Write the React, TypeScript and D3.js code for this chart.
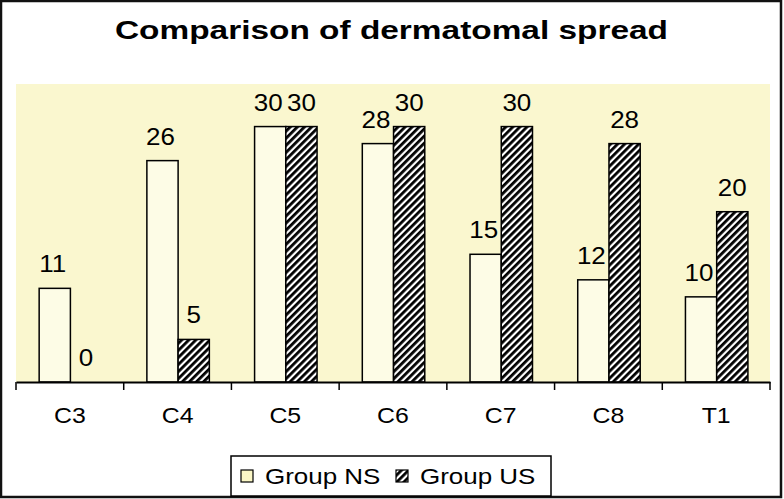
import React, { useEffect, useRef } from 'react';
import * as d3 from 'd3';

const categories = ['C3', 'C4', 'C5', 'C6', 'C7', 'C8', 'T1'];
const groupNS = [11, 26, 30, 28, 15, 12, 10];
const groupUS = [0, 5, 30, 30, 30, 28, 20];
const seriesNames = ['Group NS', 'Group US'];

const W = 784;
const H = 499;
const SX = 1.13; // the original text is drawn wider than Arial

export default function App() {
  const ref = useRef<SVGSVGElement>(null);

  useEffect(() => {
    const svg = d3.select(ref.current);
    svg.selectAll('*').remove();

    const font = '"Liberation Sans", Arial, sans-serif';
    const left = 16, right = 770, top = 84, bottom = 382;

    const x = d3.scaleBand().domain(categories).range([left, right]).padding(0);
    const y = d3.scaleLinear().domain([0, 35]).range([bottom, top]);
    const bw = x.bandwidth();
    const x1 = d3.scaleBand().domain(['NS', 'US']).range([bw * 0.215, bw * 0.795]);

    const defs = svg.append('defs');
    const pat = defs.append('pattern')
      .attr('id', 'hatch')
      .attr('patternUnits', 'userSpaceOnUse')
      .attr('width', 5)
      .attr('height', 5)
      .attr('patternTransform', 'rotate(45)');
    pat.append('rect').attr('width', 5).attr('height', 5).attr('fill', '#fff');
    pat.append('rect').attr('width', 2.8).attr('height', 5).attr('fill', '#000');

    // outer frame
    svg.append('rect')
      .attr('x', 1).attr('y', 1).attr('width', W - 4).attr('height', H - 3)
      .attr('fill', '#fff').attr('stroke', '#111').attr('stroke-width', 2.5);

    svg.append('text')
      .attr('x', 115).attr('y', 39)
      .attr('textLength', 553)
      .attr('lengthAdjust', 'spacingAndGlyphs')
      .style('font-family', font)
      .style('font-weight', 'bold')
      .style('font-size', '26px')
      .text('Comparison of dermatomal spread');

    // plot area
    svg.append('rect')
      .attr('x', left).attr('y', top).attr('width', right - left).attr('height', bottom - top)
      .attr('fill', '#faf7cf');

    const rows = categories.map((c, i) => ({ c, ns: groupNS[i], us: groupUS[i] }));
    const g = svg.selectAll('g.cat').data(rows).enter().append('g')
      .attr('transform', d => `translate(${x(d.c)},0)`);

    g.append('rect')
      .attr('x', x1('NS')!).attr('width', x1.bandwidth())
      .attr('y', d => y(d.ns)).attr('height', d => bottom - y(d.ns))
      .attr('fill', '#fdfce6').attr('stroke', '#000').attr('stroke-width', 1.5);
    g.append('rect')
      .attr('x', x1('US')!).attr('width', x1.bandwidth())
      .attr('y', d => y(d.us)).attr('height', d => bottom - y(d.us))
      .attr('fill', 'url(#hatch)').attr('stroke', '#000').attr('stroke-width', 1.5);

    g.append('text')
      .attr('transform', d => `translate(${x1('NS')! + x1.bandwidth() / 2 - 2},${y(d.ns) - 16}) scale(${SX},1)`)
      .attr('text-anchor', 'middle')
      .style('font-family', font).style('font-size', '23px')
      .text(d => d.ns);
    g.append('text')
      .attr('transform', d => `translate(${x1('US')! + x1.bandwidth() / 2},${y(d.us) - 16}) scale(${SX},1)`)
      .attr('text-anchor', 'middle')
      .style('font-family', font).style('font-size', '23px')
      .text(d => d.us);

    // x axis
    const axis = svg.append('g').attr('transform', `translate(0,${bottom})`)
      .call(d3.axisBottom(x).tickSize(0).tickFormat(() => ''));
    axis.select('.domain').attr('stroke', '#000').attr('stroke-width', 2);
    axis.selectAll('.tick').append('text')
      .attr('transform', `translate(0,41) scale(${SX},1)`)
      .attr('text-anchor', 'middle')
      .attr('fill', '#000')
      .style('font-family', font).style('font-size', '22px')
      .text(d => d as string);
    const edges = categories.map(c => x(c)!).concat([right]);
    axis.selectAll('line.edge').data(edges).enter().append('line')
      .attr('class', 'edge')
      .attr('x1', d => d).attr('x2', d => d).attr('y1', 0).attr('y2', 8)
      .attr('stroke', '#000').attr('stroke-width', 1.5);

    // legend
    const lg = svg.append('g');
    lg.append('rect')
      .attr('x', 231).attr('y', 456).attr('width', 320).attr('height', 40)
      .attr('fill', '#fff').attr('stroke', '#000').attr('stroke-width', 1.5);
    const lx = [241, 396];
    seriesNames.forEach((s, i) => {
      lg.append('rect')
        .attr('x', lx[i]).attr('y', 470).attr('width', 12).attr('height', 12)
        .attr('fill', i === 0 ? '#fbf7c6' : 'url(#hatch)')
        .attr('stroke', '#000').attr('stroke-width', 1.2);
      lg.append('text')
        .attr('transform', `translate(${lx[i] + 24},484) scale(1.18,1)`)
        .style('font-family', font).style('font-size', '22px')
        .text(s);
    });
  }, []);

  return (
    <svg ref={ref} width={W} height={H}
      style={{ position: 'absolute', left: 0, top: 0, background: '#fff' }} />
  );
}
